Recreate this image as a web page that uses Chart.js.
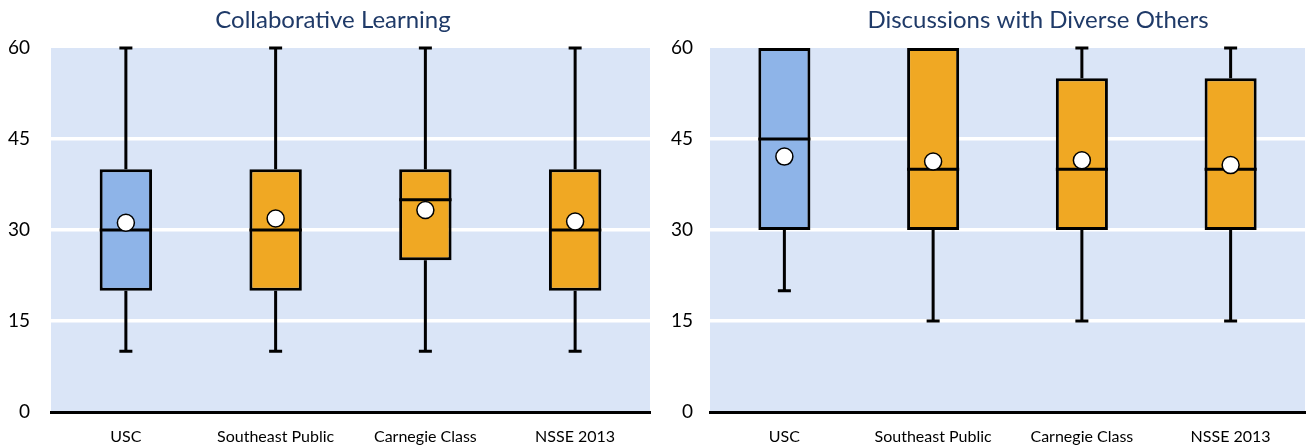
<!DOCTYPE html>
<html><head><meta charset="utf-8">
<script src="https://cdn.jsdelivr.net/npm/chart.js@4/dist/chart.umd.min.js"></script>
<style>
html,body{margin:0;padding:0;background:#fff;overflow:hidden;}
#wrap{position:relative;width:1315px;height:446px;}
#c1{position:absolute;left:0;top:0;}
#c2{position:absolute;left:660px;top:0;}
</style></head><body>
<div id="wrap"><canvas id="c1" width="660" height="446"></canvas><canvas id="c2" width="655" height="446"></canvas></div>
<script>
// ---- data ----
const categories = ["USC", "Southeast Public", "Carnegie Class", "NSSE 2013"];
const yTicks = [0, 15, 30, 45, 60];

const title1 = "Collaborative Learning";
const min1 = [10, 10, 10, 10];
const q1_1 = [20, 20, 25, 20];
const median1 = [30, 30, 35, 30];
const q3_1 = [40, 40, 40, 40];
const max1 = [60, 60, 60, 60];
const mean1 = [31.2, 31.9, 33.3, 31.4];

const title2 = "Discussions with Diverse Others";
const min2 = [20, 15, 15, 15];
const q1_2 = [30, 30, 30, 30];
const median2 = [45, 40, 40, 40];
const q3_2 = [60, 60, 55, 55];
const max2 = [60, 60, 60, 60];
const mean2 = [42.1, 41.3, 41.5, 40.7];

const boxColors = ["#8EB4E8", "#F0A823", "#F0A823", "#F0A823"];
const FONT = "Lato, 'Open Sans', sans-serif";

const bgPlugin = {
  id: 'plotBg',
  beforeDraw(chart) {
    const a = chart.chartArea, ctx = chart.ctx;
    ctx.save(); ctx.fillStyle = '#DAE5F7';
    ctx.fillRect(a.left, a.top, a.right - a.left, a.bottom - a.top);
    ctx.restore();
  }
};

const titlePlugin = {
  id: 'customTitle',
  afterDraw(chart, args, opts) {
    const ctx = chart.ctx;
    ctx.save();
    ctx.font = "24px " + FONT;
    ctx.fillStyle = '#1F3A68';
    ctx.textAlign = 'center'; ctx.textBaseline = 'middle';
    ctx.fillText(opts.text, opts.x, opts.y);
    ctx.restore();
  }
};

const whiskerPlugin = {
  id: 'whiskers',
  afterDatasetDraw(chart, args, opts) {
    if (args.meta.type !== 'bar') return;
    const ctx = chart.ctx, y = chart.scales.y;
    const meta = args.meta;
    ctx.save();
    ctx.strokeStyle = '#000'; ctx.lineWidth = 3; ctx.lineCap = 'butt';
    meta.data.forEach((bar, i) => {
      const x = bar.x, hw = bar.width / 2;
      const yMin = y.getPixelForValue(opts.min[i]);
      const yQ1 = y.getPixelForValue(opts.q1[i]);
      const yMed = y.getPixelForValue(opts.median[i]);
      const yQ3 = y.getPixelForValue(opts.q3[i]);
      const yMax = y.getPixelForValue(opts.max[i]);
      ctx.beginPath();
      if (opts.max[i] > opts.q3[i]) { ctx.moveTo(x, yQ3); ctx.lineTo(x, yMax); ctx.moveTo(x - 6.5, yMax); ctx.lineTo(x + 6.5, yMax); }
      if (opts.min[i] < opts.q1[i]) { ctx.moveTo(x, yQ1); ctx.lineTo(x, yMin); ctx.moveTo(x - 6.5, yMin); ctx.lineTo(x + 6.5, yMin); }
      ctx.moveTo(x - hw, yMed); ctx.lineTo(x + hw, yMed);
      ctx.stroke();
    });
    ctx.restore();
  }
};

function makeChart(id, title, titleX, mins, q1s, meds, q3s, maxs, means, yWidth, yPad, padRight) {
  return new Chart(document.getElementById(id), {
    type: 'bar',
    data: {
      labels: categories,
      datasets: [
        { type: 'line', data: means, showLine: false, order: 0, clip: false,
          pointRadius: 8.5, pointHoverRadius: 8.5, pointBackgroundColor: '#fff',
          pointBorderColor: '#000', pointBorderWidth: 1.5 },
        { type: 'bar', data: q1s.map((v, i) => [v, q3s[i]]), order: 1, clip: false,
          backgroundColor: boxColors, borderColor: '#000', borderWidth: 3,
          borderSkipped: false, barPercentage: 0.35, categoryPercentage: 1 }
      ]
    },
    options: {
      responsive: false, animation: false,
      layout: { padding: { top: 48, right: padRight, left: 0, bottom: 0 } },
      plugins: {
        legend: { display: false }, tooltip: { enabled: false }, title: { display: false },
        customTitle: { text: title, x: titleX, y: 20 },
        whiskers: { min: mins, q1: q1s, median: meds, q3: q3s, max: maxs }
      },
      scales: {
        x: {
          grid: { display: false, drawTicks: false },
          border: { display: true, color: '#000', width: 3 },
          ticks: { color: '#000', font: { family: FONT, size: 16 }, padding: 15, maxRotation: 0, autoSkip: false },
          afterFit: s => { s.height = 34; }
        },
        y: {
          min: 0, max: 60,
          afterBuildTicks: s => { s.ticks = yTicks.map(v => ({ value: v })); },
          grid: { color: c => (c.tick && (c.tick.value === 0 || c.tick.value === 60)) ? 'rgba(0,0,0,0)' : '#FFFFFF',
                  lineWidth: 3.5, drawTicks: false },
          border: { display: false },
          ticks: { color: '#000', font: { family: FONT, size: 19 }, padding: yPad },
          afterFit: s => { s.width = yWidth; }
        }
      }
    },
    plugins: [bgPlugin, titlePlugin, whiskerPlugin]
  });
}

makeChart('c1', title1, 333, min1, q1_1, median1, q3_1, max1, mean1, 51, 21, 1);
makeChart('c2', title2, 378, min2, q1_2, median2, q3_2, max2, mean2, 50, 17, 0);
</script>
</body></html>
